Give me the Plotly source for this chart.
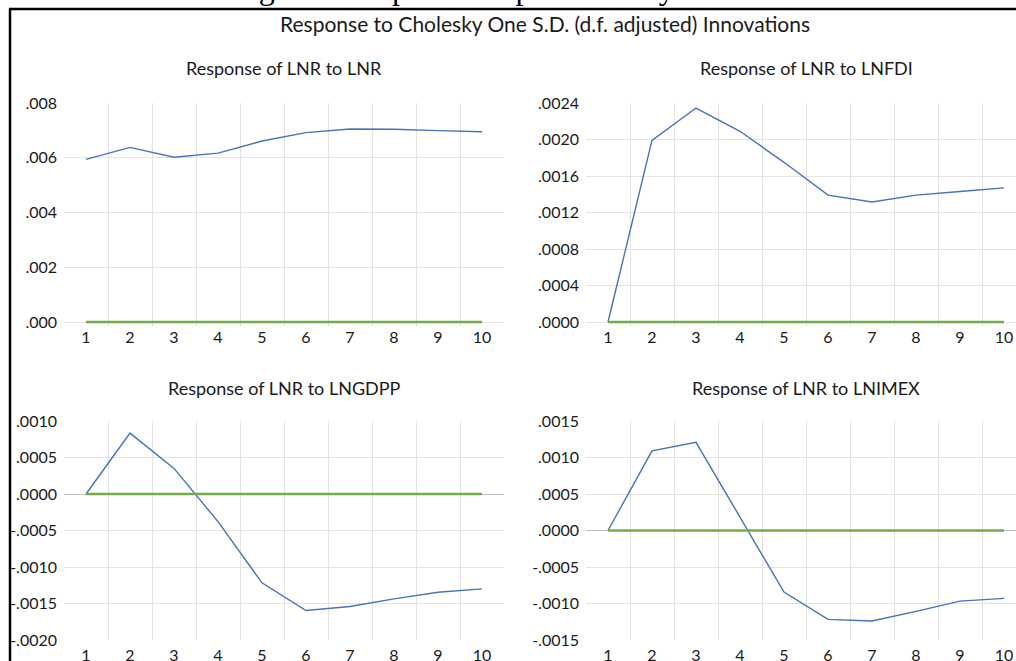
import plotly.graph_objects as go

W, H = 1016, 661

periods = [1, 2, 3, 4, 5, 6, 7, 8, 9, 10]
zero_line = [0, 0, 0, 0, 0, 0, 0, 0, 0, 0]

lnr_to_lnr = [0.00594, 0.00638, 0.00602, 0.00617, 0.00661, 0.00692, 0.00705, 0.00704, 0.00699, 0.00695]
lnr_to_lnfdi = [0.0, 0.00199, 0.002345, 0.00209, 0.00175, 0.00139, 0.001315, 0.00139, 0.00143, 0.00147]
lnr_to_lngdpp = [0.0, 0.000834, 0.000351, -0.000378, -0.001217, -0.001596, -0.001541, -0.001436, -0.001345, -0.001299]
lnr_to_lnimex = [0.0, 0.00109, 0.001208, 0.00018, -0.000843, -0.001217, -0.00124, -0.001108, -0.000967, -0.00093]

panel_titles = ["Response of LNR to LNR", "Response of LNR to LNFDI",
                "Response of LNR to LNGDPP", "Response of LNR to LNIMEX"]

ytick_vals_1 = [0.0, 0.002, 0.004, 0.006, 0.008]
ytick_text_1 = [".000", ".002", ".004", ".006", ".008"]
ytick_vals_2 = [0.0, 0.0004, 0.0008, 0.0012, 0.0016, 0.0020, 0.0024]
ytick_text_2 = [".0000", ".0004", ".0008", ".0012", ".0016", ".0020", ".0024"]
ytick_vals_3 = [-0.0020, -0.0015, -0.0010, -0.0005, 0.0, 0.0005, 0.0010]
ytick_text_3 = ["-.0020", "-.0015", "-.0010", "-.0005", ".0000", ".0005", ".0010"]
ytick_vals_4 = [-0.0015, -0.0010, -0.0005, 0.0, 0.0005, 0.0010, 0.0015]
ytick_text_4 = ["-.0015", "-.0010", "-.0005", ".0000", ".0005", ".0010", ".0015"]

main_title = "Response to Cholesky One S.D. (d.f. adjusted) Innovations"
header_title = "Figure 4: Impulse Response Analysis Results"

BLUE = "#4472C4"
GREEN = "#70AD47"
GRID = "#e3e3e3"
FONT = "Lato"
TXT = "#1a1a1a"

def px_x(p):
    return p / W

def px_y(p):
    return 1 - p / H

fig = go.Figure()

series = [lnr_to_lnr, lnr_to_lnfdi, lnr_to_lngdpp, lnr_to_lnimex]
for i, s in enumerate(series):
    k = "" if i == 0 else str(i + 1)
    fig.add_trace(go.Scatter(x=periods, y=s, mode="lines", line=dict(color=BLUE, width=1.4),
                             xaxis="x" + k, yaxis="y" + k, showlegend=False, hoverinfo="skip"))
    fig.add_trace(go.Scatter(x=periods, y=zero_line, mode="lines", line=dict(color=GREEN, width=2.4),
                             xaxis="x" + k, yaxis="y" + k, showlegend=False, hoverinfo="skip"))

# panel geometry in pixels (top panels get a small pad below zero so the zero line is not clipped)
PAD = 4
left_dom = [px_x(64), px_x(504)]
right_dom = [px_x(586), 1.0]
top_dom = [px_y(322 + PAD), px_y(103)]
bot_dom = [px_y(640), px_y(421)]

def xaxis(dom, rng, anchor, standoff=0):
    return dict(domain=dom, range=rng, anchor=anchor, tickvals=periods,
                ticktext=[str(p) for p in periods], showgrid=False, zeroline=False,
                showline=False, ticks="", automargin=False, ticklabelstandoff=standoff,
                tickfont=dict(family=FONT, size=16, color=TXT),
                minor=dict(tickvals=[1.5, 2.5, 3.5, 4.5, 5.5, 6.5, 7.5, 8.5, 9.5],
                           showgrid=True, gridcolor=GRID, gridwidth=1, ticklen=0))

def yaxis(dom, rng, anchor, vals, text, zl):
    return dict(domain=dom, range=rng, anchor=anchor, tickvals=vals, ticktext=text,
                showgrid=True, gridcolor=GRID, gridwidth=1, zeroline=zl,
                zerolinecolor="#bfbfbf", zerolinewidth=1, showline=False,
                ticks="", ticklabelstandoff=6, automargin=False,
                tickfont=dict(family=FONT, size=16, color=TXT))

right_rng = [0.5, 0.5 + 430 / 44]
pad1 = PAD * 0.008 / 219
pad2 = PAD * 0.0024 / 219
fig.update_layout(
    xaxis=xaxis(left_dom, [0.5, 10.5], "y", 0),
    yaxis=yaxis(top_dom, [-pad1, 0.008], "x", ytick_vals_1, ytick_text_1, False),
    xaxis2=xaxis(right_dom, right_rng, "y2", 0),
    yaxis2=yaxis(top_dom, [-pad2, 0.0024], "x2", ytick_vals_2, ytick_text_2, False),
    xaxis3=xaxis(left_dom, [0.5, 10.5], "y3", 4),
    yaxis3=yaxis(bot_dom, [-0.002, 0.001], "x3", ytick_vals_3, ytick_text_3, True),
    xaxis4=xaxis(right_dom, right_rng, "y4", 4),
    yaxis4=yaxis(bot_dom, [-0.0015, 0.0015], "x4", ytick_vals_4, ytick_text_4, True),
)

annotations = []
title_pos = [(284, 68), (806, 68), (284, 388), (806, 388)]
for t, (ax, ay) in zip(panel_titles, title_pos):
    annotations.append(dict(text=t, x=px_x(ax), y=px_y(ay), xref="paper", yref="paper",
                            showarrow=False, xanchor="center", yanchor="middle",
                            font=dict(family=FONT, size=18, color=TXT)))
annotations.append(dict(text=main_title, x=px_x(545), y=px_y(23), xref="paper", yref="paper",
                        showarrow=False, xanchor="center", yanchor="middle",
                        font=dict(family=FONT, size=21, color=TXT)))
annotations.append(dict(text=header_title, x=px_x(521), y=px_y(-12), xref="paper", yref="paper",
                        showarrow=False, xanchor="center", yanchor="middle",
                        font=dict(family="Liberation Serif", size=32, color="#000000")))

shapes = [
    dict(type="line", xref="paper", yref="paper", x0=px_x(9), x1=1.0, y0=px_y(9), y1=px_y(9),
         line=dict(color="black", width=2.5)),
    dict(type="line", xref="paper", yref="paper", x0=px_x(10), x1=px_x(10), y0=px_y(9), y1=0,
         line=dict(color="black", width=2.5)),
]

fig.update_layout(width=W, height=H, margin=dict(l=0, r=0, t=0, b=0, autoexpand=False),
                  paper_bgcolor="white", plot_bgcolor="white", hovermode=False,
                  annotations=annotations, shapes=shapes, showlegend=False)

fig.write_html("out.html", config={"displayModeBar": False, "staticPlot": True},
               post_script="document.body.style.margin='0';document.body.style.overflow='hidden';")
